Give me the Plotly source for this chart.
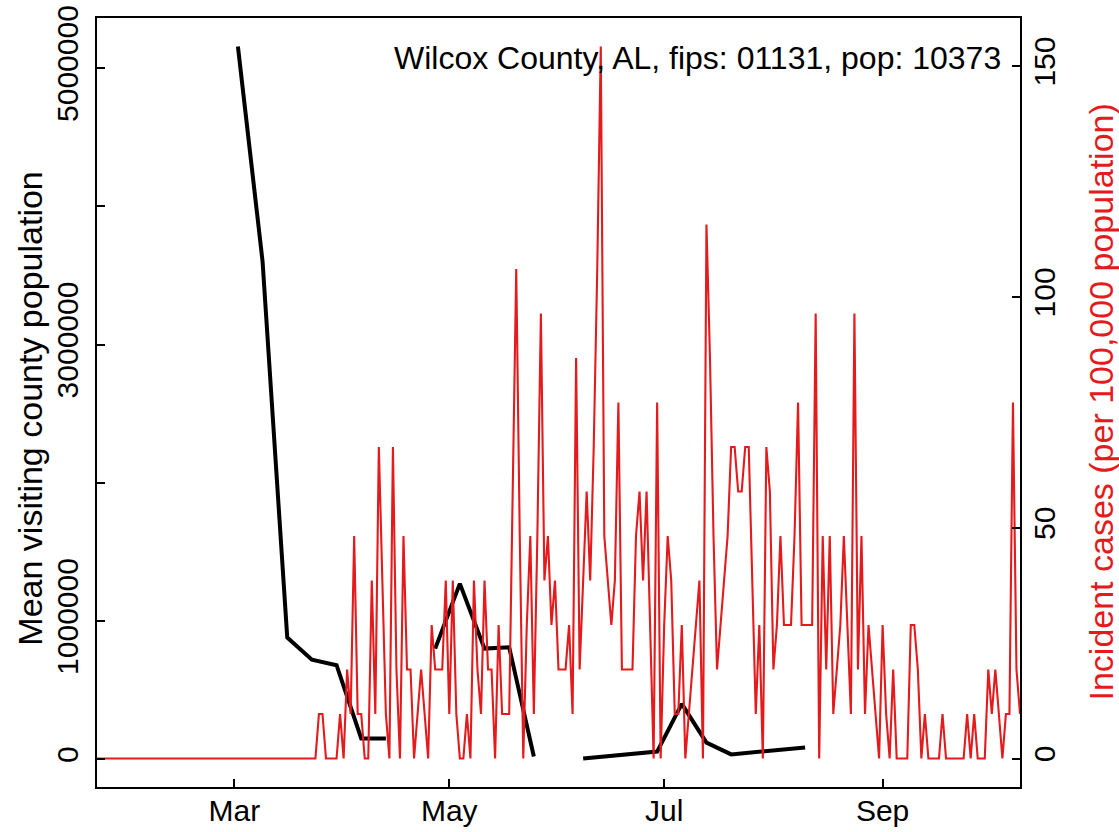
import plotly.graph_objects as go
import pandas as pd

# ---------------- data ----------------
POP = 10373
START_DATE = "2020-01-22"

# daily new cases (counts) starting at START_DATE
daily_cases = [
    0, 0, 0, 0, 0, 0, 0, 0, 0, 0,
    0, 0, 0, 0, 0, 0, 0, 0, 0, 0,
    0, 0, 0, 0, 0, 0, 0, 0, 0, 0,
    0, 0, 0, 0, 0, 0, 0, 0, 0, 0,
    0, 0, 0, 0, 0, 0, 0, 0, 0, 0,
    0, 0, 0, 0, 0, 0, 0, 0, 0, 0,
    0, 0, 0, 1, 1, 0, 0, 0, 0, 1,
    0, 2, 1, 5, 1, 1, 0, 0, 4, 1,
    7, 4, 1, 0, 7, 2, 0, 5, 2, 2,
    0, 1, 2, 1, 0, 3, 2, 2, 2, 4,
    1, 4, 1, 0, 0, 1, 0, 4, 2, 1,
    4, 2, 2, 0, 3, 1, 1, 1, 6, 11,
    5, 0, 3, 5, 1, 5, 10, 4, 5, 3,
    4, 2, 2, 2, 3, 1, 9, 2, 4, 6,
    4, 7, 11, 16, 5, 4, 3, 4, 8, 2,
    2, 2, 2, 5, 6, 4, 6, 3, 0, 8,
    0, 3, 5, 4, 1, 1, 3, 0, 1, 2,
    3, 4, 0, 12, 9, 5, 2, 3, 4, 5,
    7, 7, 6, 6, 7, 7, 4, 1, 3, 0,
    7, 6, 2, 3, 5, 3, 3, 3, 5, 8,
    3, 3, 3, 3, 10, 0, 5, 2, 5, 1,
    2, 3, 5, 3, 1, 10, 2, 5, 1, 3,
    2, 1, 0, 3, 1, 0, 2, 0, 0, 0,
    0, 3, 3, 2, 0, 1, 0, 0, 0, 0,
    1, 0, 0, 0, 0, 0, 0, 1, 0, 1,
    0, 0, 0, 2, 1, 2, 1, 0, 1, 1,
    8, 2, 1,
]

# weekly mean visiting county population (None = missing week)
visit_dates = [
    "2020-03-02", "2020-03-09", "2020-03-16", "2020-03-23", "2020-03-30",
    "2020-04-06", "2020-04-13", "2020-04-20", "2020-04-27", "2020-05-04",
    "2020-05-11", "2020-05-18", "2020-05-25", "2020-06-01", "2020-06-08",
    "2020-06-15", "2020-06-22", "2020-06-29", "2020-07-06", "2020-07-13",
    "2020-07-20", "2020-07-27", "2020-08-03", "2020-08-10",
]
visit_pop = [
    5156000, 3600000, 880000, 720000, 680000,
    150000, 150000, None, 800000, 1270000,
    800000, 810000, 20000, None, 5000,
    20000, 35000, 55000, 400000, 120000,
    35000, 50000, 70000, 85000,
]

x_tick_vals = ["2020-03-01", "2020-05-01", "2020-07-01", "2020-09-01"]
x_tick_text = ["Mar", "May", "Jul", "Sep"]
left_tick_vals = [0, 1000000, 2000000, 3000000, 4000000, 5000000]
left_tick_text = ["0", "1000000", "", "3000000", "", "5000000"]
right_tick_vals = [0, 50, 100, 150]
right_tick_text = ["0", "50", "100", "150"]

title_text = "Wilcox County, AL, fips: 01131, pop: 10373"
left_title = "Mean visiting county population"
right_title = "Incident cases (per 100,000 population)"

# ---------------- derived ----------------
dates = pd.date_range(START_DATE, periods=len(daily_cases), freq="D")
incidence = [c * 100000 / POP for c in daily_cases]

RED = "#E41A1C"
FONT = "Liberation Sans, Arial, Helvetica, sans-serif"
FS_TICK = 30
FS_TITLE = 32
FS_LAB = 34


def padded(vals):
    v = [a for a in vals if a is not None]
    lo, hi = min(v), max(v)
    d = 0.04 * (hi - lo)
    return [lo - d, hi + d]


fig = go.Figure()
fig.add_trace(go.Scatter(
    x=visit_dates, y=visit_pop, mode="lines", connectgaps=False,
    line=dict(color="black", width=4), yaxis="y", hoverinfo="skip",
))
fig.add_trace(go.Scatter(
    x=dates, y=incidence, mode="lines",
    line=dict(color=RED, width=2.1), yaxis="y2", hoverinfo="skip",
))

axis_common = dict(
    ticks="inside", ticklen=8, tickwidth=1.5, tickcolor="black",
    showline=True, linecolor="black", linewidth=2,
    showgrid=False, zeroline=False, automargin=False,
    ticklabeloverflow="allow",
    tickfont=dict(family=FONT, size=FS_TICK, color="black"),
)

fig.update_layout(
    width=1119, height=832,
    margin=dict(l=97, r=99, t=18, b=45, autoexpand=False),
    paper_bgcolor="white", plot_bgcolor="white",
    showlegend=False,
    font=dict(family=FONT, size=FS_TICK, color="black"),
    xaxis=dict(
        type="date", range=[dates[0], dates[-1]],
        tickmode="array", tickvals=x_tick_vals, ticktext=x_tick_text,
        mirror=True, ticklabelstandoff=-4, **axis_common,
    ),
    yaxis=dict(
        range=padded(visit_pop), tickmode="array",
        tickvals=left_tick_vals, ticktext=left_tick_text,
        tickangle=-90, mirror=True, ticklabelstandoff=5, **axis_common,
    ),
    yaxis2=dict(
        overlaying="y", side="right", range=padded(incidence),
        tickmode="array", tickvals=right_tick_vals, ticktext=right_tick_text,
        tickangle=-90, ticklabelstandoff=-3, **axis_common,
    ),
    annotations=[
        dict(text=title_text, xref="paper", yref="paper", x=0.9816, y=0.948,
             xanchor="right", yanchor="middle", showarrow=False,
             font=dict(family=FONT, size=FS_TITLE, color="black")),
        dict(text=left_title, xref="paper", yref="paper", x=-0.0726, y=0.492,
             xanchor="center", yanchor="middle", textangle=-90, showarrow=False,
             font=dict(family=FONT, size=FS_LAB, color="black")),
        dict(text=right_title, xref="paper", yref="paper", x=1.0867, y=0.5,
             xanchor="center", yanchor="middle", textangle=-90, showarrow=False,
             font=dict(family=FONT, size=FS_LAB, color=RED)),
    ],
)

# remove the browser's default 8px page margin so the figure fills the window
fig.write_html(
    "out.html",
    config={"displayModeBar": False},
    post_script="document.body.style.margin = '0px';",
)
